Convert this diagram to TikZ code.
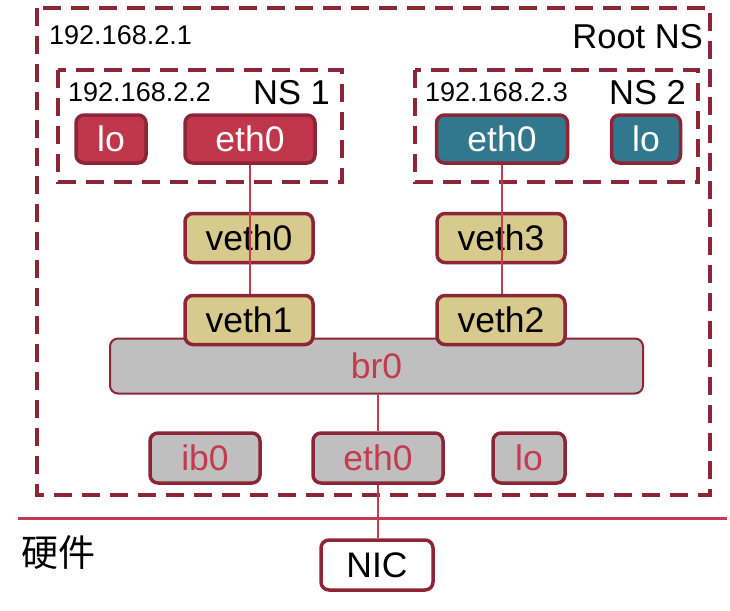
\documentclass[tikz,border=0pt]{standalone}
\usepackage{fontspec}
\setmainfont{Liberation Sans}
\newfontfamily\cjk{Noto Sans CJK SC}
\definecolor{bord}{HTML}{8C2636}
\definecolor{redf}{HTML}{C0374B}
\definecolor{linec}{HTML}{C33B4D}
\definecolor{tealf}{HTML}{31788F}
\definecolor{tanf}{HTML}{D7CA8C}
\definecolor{grayf}{HTML}{BFBFBF}
\tikzset{
  nsbox/.style={draw=bord, line width=3.5pt, dash pattern=on 18pt off 10pt},
  ifbox/.style={draw=bord, line width=3.5pt, rounded corners=8pt, inner sep=0pt,
    font=\fontsize{35.5}{40}\selectfont},
  redbox/.style={ifbox, fill=redf, text=white},
  tealbox/.style={ifbox, fill=tealf, text=white},
  tanbox/.style={ifbox, fill=tanf, text=black},
  graybox/.style={ifbox, fill=grayf, text=linec},
  whitebox/.style={ifbox, fill=white, text=black},
  wire/.style={draw=linec, line width=2.5pt},
  iplabel/.style={font=\fontsize{27}{32}\selectfont, inner sep=0pt},
  nslabel/.style={font=\fontsize{34.5}{40}\selectfont, inner sep=0pt},
}
\begin{document}
\begin{tikzpicture}[x=1pt,y=-1pt]
\useasboundingbox (0,0) rectangle (730,610);
% namespace frames
\draw[nsbox] (37,8) rectangle (710,495);
\draw[nsbox] (58,70) rectangle (342,182);
\draw[nsbox] (415,70) rectangle (698,182);
% labels
\node[iplabel, anchor=west] (ip1) at (49,35) {192.168.2.1};
\node[nslabel, anchor=east] (rootns) at (703,37) {Root NS};
\node[iplabel, anchor=west] (ip2) at (68,92) {192.168.2.2};
\node[nslabel, anchor=east] (ns1) at (330,93) {NS 1};
\node[iplabel, anchor=west] (ip3) at (425,92) {192.168.2.3};
\node[nslabel, anchor=east] (ns2) at (686,93) {NS 2};
% NS1 interfaces
\node[redbox, minimum width=70pt, minimum height=48pt] (lo1) at (111,139) {lo};
\node[redbox, minimum width=130pt, minimum height=48pt] (eth1) at (250,139) {eth0};
% NS2 interfaces
\node[tealbox, minimum width=131pt, minimum height=48pt] (eth2) at (502,139) {eth0};
\node[tealbox, minimum width=69pt, minimum height=48pt] (lo2) at (646,139) {lo};
% veth
\node[tanbox, minimum width=128pt, minimum height=49pt] (veth0) at (249,238) {veth0};
\node[tanbox, minimum width=128pt, minimum height=49pt] (veth3) at (501,238) {veth3};
% bridge
\node[graybox, line width=2pt, minimum width=533pt, minimum height=55pt] (br0) at (376.5,366) {br0};
\node[tanbox, minimum width=128pt, minimum height=49pt] (veth1) at (249,320) {veth1};
\node[tanbox, minimum width=128pt, minimum height=49pt] (veth2) at (501,320) {veth2};
% root interfaces
\node[graybox, minimum width=110pt, minimum height=50pt] (ib0) at (205,458) {ib0};
\node[graybox, minimum width=130pt, minimum height=50pt] (eth0r) at (378,458) {eth0};
\node[graybox, minimum width=72pt, minimum height=50pt] (lor) at (529,458) {lo};
% hardware
\draw[wire, line width=3pt] (18,518) coordinate (hl) -- (727,518) coordinate (hr);
\node[font=\cjk\fontsize{37}{42}\selectfont, anchor=west, inner sep=0pt] (hw) at (21,553) {硬件};
\node[whitebox, minimum width=112pt, minimum height=50pt] (nic) at (377,565) {NIC};
% wires
\draw[wire] (eth1.south) -- (eth1.south |- veth1.north);
\draw[wire] (eth2.south) -- (eth2.south |- veth2.north);
\draw[wire] (eth0r.north |- br0.south) -- (eth0r.north);
\draw[wire] (eth0r.south) -- (eth0r.south |- nic.north);
\end{tikzpicture}
\end{document}
